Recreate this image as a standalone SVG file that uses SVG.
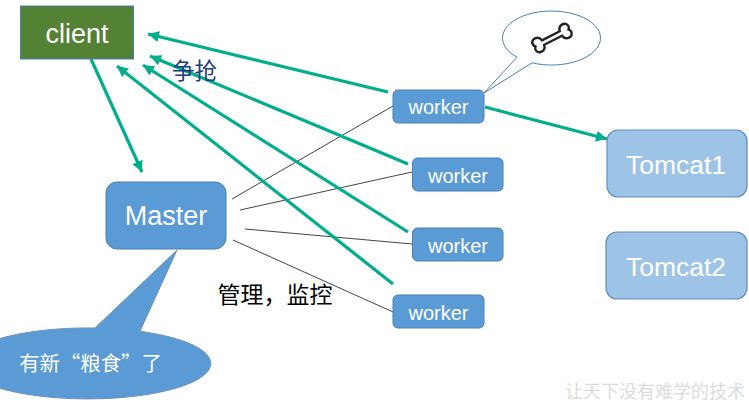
<svg xmlns="http://www.w3.org/2000/svg" width="749" height="409" viewBox="0 0 749 409">
<style>
text{font-family:"Liberation Sans","Noto Sans CJK SC",sans-serif;text-anchor:middle}
.cjk{font-family:"Noto Sans CJK SC","Liberation Sans",sans-serif}
.light{fill:#fff}
.box{fill:#5b9bd5;stroke:#4a7fb0;stroke-width:1}
.tom{fill:#9dc3e6;stroke:#5f8fbd;stroke-width:1.2}
.w{font-size:20px;fill:#fff}
.t{font-size:26.5px;fill:#fff}
.g{stroke:#00ae8c;stroke-width:3.2;fill:none;marker-end:url(#a)}
.k{stroke:#444;stroke-width:1;fill:none}
</style>
<defs>
<marker id="a" markerUnits="userSpaceOnUse" markerWidth="12" markerHeight="12" refX="11" refY="5.500" orient="auto"><path d="M0 0L11 5.500L0 11z" fill="#00ae8c"/></marker>
</defs>
<rect width="749" height="409" fill="#fff"/>
<g id="connectors">
<path class="k" d="M232 199L393 106M240 210L412 172M245 229L412 244M233 240L393 312"/>
<path class="g" d="M91 59L142 172"/>
<path class="g" d="M388 92L148 34"/>
<path class="g" d="M408 164L150 56"/>
<path class="g" d="M408 232L143 65"/>
<path class="g" d="M393 284L117 66"/>
<path class="g" d="M485 107L607 139"/>
</g>
<g id="client"><rect x="20.500" y="6" width="113" height="53" fill="#548235" stroke="#4a7fb0" stroke-width="1"/><text x="77" y="43" font-size="27" class="light">client</text></g>
<g id="master"><rect class="box" x="106" y="182" width="120" height="67" rx="11"/><text x="166" y="225" font-size="27" class="light">Master</text></g>
<g id="worker1"><rect class="box" x="393" y="90" width="91" height="33" rx="5"/><text class="w" x="438.500" y="114">worker</text></g>
<g id="worker2"><rect class="box" x="412.500" y="158" width="90.500" height="33" rx="5"/><text class="w" x="458" y="182.500">worker</text></g>
<g id="worker3"><rect class="box" x="412.500" y="228" width="90.500" height="33" rx="5"/><text class="w" x="458" y="252.500">worker</text></g>
<g id="worker4"><rect class="box" x="393" y="295" width="91" height="33" rx="5"/><text class="w" x="438.500" y="319.500">worker</text></g>
<g id="tomcat1"><rect class="tom" x="607" y="130" width="140" height="67" rx="11"/><text class="t" x="676" y="173.500">Tomcat1</text></g>
<g id="tomcat2"><rect class="tom" x="606" y="232" width="141" height="67" rx="11"/><text class="t" x="676" y="275.500">Tomcat2</text></g>
<g id="bubble-bone">
<path d="M484 93L517 57.200A49 27 0 1 1 532 62.800Z" fill="#fff" stroke="#4a7fb0" stroke-width="1"/>
<path transform="translate(552 38) rotate(-27)" d="M-10-2.500H10C11-9 20-9 20-3C20-1 19-.5 18.500 0C19 .5 20 1 20 3C20 9 11 9 10 2.500H-10C-11 9-20 9-20 3C-20 1-19 .5-18.500 0C-19-.5-20-1-20-3C-20-9-11-9-10-2.500Z" fill="#fff" stroke="#222" stroke-width="2.400"/>
</g>
<g id="bubble-grain">
<path d="M177 250L140 331.300A123 35.500 0 1 1 95 328Z" fill="#5b9bd5" stroke="#6b93b8" stroke-width="1"/>
<text class="cjk light" x="90.500" y="371" font-size="20.400">有新“粮食”了</text>
</g>
<g id="labels">
<text class="cjk" x="194.500" y="79" font-size="22.500" fill="#1f3a7a">争抢</text>
<text class="cjk" x="275" y="303" font-size="23" fill="#000">管理，监控</text>
<text class="cjk" x="655" y="398" font-size="18" fill="#dcdcdc">让天下没有难学的技术</text>
</g>
</svg>
